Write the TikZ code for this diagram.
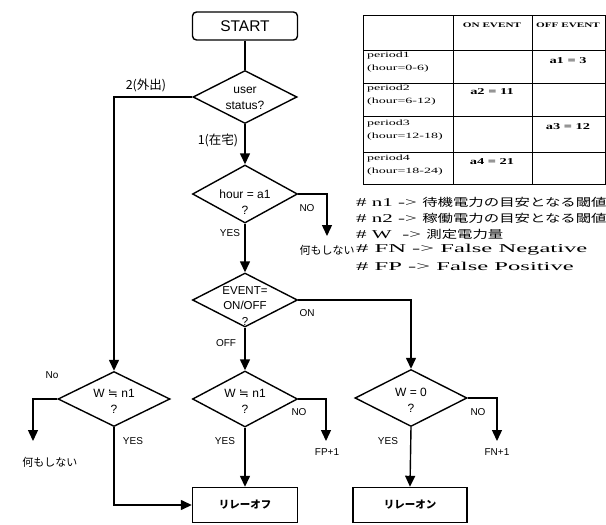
\documentclass[tikz,border=0pt]{standalone}
\usepackage{fontspec}
\setsansfont{Liberation Sans}
\newfontfamily\cjk{Noto Sans CJK JP}
\newfontfamily\sym{DejaVu Sans}
\newfontfamily\tserif{Liberation Serif}
\usetikzlibrary{shapes.geometric,arrows.meta}
\begin{document}
\begin{tikzpicture}[x=1pt,y=-1pt,
  ln/.style={line width=1.4pt},
  arr/.style={ln,-{Triangle[width=10pt,length=11pt]}},
  dshape/.style={diamond,draw,line width=1.4pt,inner sep=0pt},
  dtxt/.style={align=center,font=\sffamily\fontsize{12}{16}\selectfont,inner sep=0pt},
  lbl/.style={font=\sffamily\fontsize{10}{12}\selectfont,inner sep=0pt},
  jlbl/.style={font=\cjk\fontsize{11}{12}\selectfont,inner sep=0pt},
  relay/.style={draw,line width=1.4pt,minimum height=35pt,inner sep=0pt,font=\cjk\bfseries\fontsize{10.5}{12}\selectfont},
  tline/.style={line width=0.8pt},
  tcell/.style={anchor=north west,align=left,inner sep=0pt,font=\tserif\fontsize{8}{13}\selectfont},
  tval/.style={inner sep=0pt,font=\tserif\bfseries\fontsize{9}{10}\selectfont},
  thead/.style={inner sep=0pt,font=\tserif\bfseries\fontsize{7}{8}\selectfont},
  note/.style={anchor=west,inner sep=0pt,font=\tserif\fontsize{12}{13}\selectfont}
]
\useasboundingbox (0,0) rectangle (606,525);
% ---------- flowchart nodes ----------
\node[draw,rounded corners=4pt,line width=1.4pt,minimum width=105pt,minimum height=28pt,inner sep=0pt,font=\sffamily\fontsize{15.5}{16}\selectfont] (start) at (245,26) {START};
\node[dshape,minimum width=104pt,minimum height=53pt] (us) at (245,97) {};
\node[dtxt] (ust) at (245,98) {user\\status?};
\node[dshape,minimum width=105pt,minimum height=58pt] (hr) at (245,194) {};
\node[dtxt] (hrt) at (245,202) {hour = a1\\?};
\node[dshape,minimum width=105pt,minimum height=54pt] (ev) at (245,300) {};
\node[dtxt,font=\sffamily\fontsize{11.5}{15.5}\selectfont] (evt) at (245,306) {EVENT=\\ON/OFF\\?};
\node[dshape,minimum width=105pt,minimum height=56pt] (wm) at (245,399) {};
\node[dtxt] (wmt) at (245,401) {W {\sym ≒} n1\\?};
\node[dshape,minimum width=112pt,minimum height=55pt] (wl) at (114,399) {};
\node[dtxt] (wlt) at (114,401) {W {\sym ≒} n1\\?};
\node[dshape,minimum width=112pt,minimum height=57pt] (w0) at (411,398) {};
\node[dtxt] (w0t) at (411,400) {W = 0\\?};
\node[relay,minimum width=105pt] (off) at (245,505) {リレーオフ};
\node[relay,minimum width=114pt] (on) at (410,505) {リレーオン};
\coordinate (nohr) at (327,236);
\coordinate (fpc) at (326,441);
\coordinate (fnc) at (497,441);
\coordinate (nlc) at (33,441);
% ---------- connectors ----------
\draw[ln] (start) -- (us.north);
\draw[arr] (us.south) -- (hr.north);
\draw[arr] (us.west) -| (wl.north);
\draw[arr] (hr.east) -| (nohr);
\draw[arr] (hr.south) -- (ev.north);
\draw[arr] (ev.east) -| (w0.north);
\draw[arr] (ev.south) -- (wm.north);
\draw[arr] (wm.east) -| (fpc);
\draw[arr] (w0.east) -| (fnc);
\draw[arr] (wl.west) -| (nlc);
\draw[arr] (wl.south) |- (off.west);
\draw[arr] (wm.south) -- (off.north);
\draw[arr] (w0.south) -- (on.north);
% ---------- labels ----------
\node[jlbl,font=\cjk\fontsize{12.5}{13}\selectfont] (l2) at (146,85) {2(外出)};
\node[jlbl,font=\cjk\fontsize{12.5}{13}\selectfont] (l1) at (218,140) {1(在宅)};
\node[lbl] (lno1) at (307,208) {NO};
\node[jlbl] (lnth1) at (327,250) {何もしない};
\node[lbl] (lyes1) at (230,233) {YES};
\node[lbl] (lon) at (307,313) {ON};
\node[lbl] (loff) at (226,343) {OFF};
\node[lbl] (lno2) at (52,375) {No};
\node[jlbl] (lnth2) at (50,462) {何もしない};
\node[lbl] (lyes2) at (133,441) {YES};
\node[lbl] (lyes3) at (225,441) {YES};
\node[lbl] (lno3) at (299,412) {NO};
\node[lbl] (lfp) at (327,452) {FP+1};
\node[lbl] (lyes4) at (388,441) {YES};
\node[lbl] (lno4) at (478,412) {NO};
\node[lbl] (lfn) at (497,452) {FN+1};
% ---------- table ----------
\draw[tline] (363,15) rectangle (605,184);
\foreach \yy in {50,83,116,152} \draw[tline] (363,\yy) -- (605,\yy);
\foreach \xx in {453,532} \draw[tline] (\xx,15) -- (\xx,184);
\node[thead] (th1) at (492,25) {\scalebox{1.6}[1]{ON EVENT}};
\node[thead] (th2) at (568,25) {\scalebox{1.6}[1]{OFF EVENT}};
\node[tcell] (p1) at (367,52) {\scalebox{1.75}[1]{period1}\\\scalebox{1.75}[1]{(hour=0-6)}};
\node[tcell] (p2) at (367,85) {\scalebox{1.75}[1]{period2}\\\scalebox{1.75}[1]{(hour=6-12)}};
\node[tcell] (p3) at (367,120) {\scalebox{1.75}[1]{period3}\\\scalebox{1.75}[1]{(hour=12-18)}};
\node[tcell] (p4) at (367,155) {\scalebox{1.75}[1]{period4}\\\scalebox{1.75}[1]{(hour=18-24)}};
\node[tval] (v1) at (568,61) {\scalebox{1.6}[1]{a1 = 3}};
\node[tval] (v2) at (492,92) {\scalebox{1.6}[1]{a2 = 11}};
\node[tval] (v3) at (568,127) {\scalebox{1.6}[1]{a3 = 12}};
\node[tval] (v4) at (492,162) {\scalebox{1.6}[1]{a4 = 21}};
% ---------- notes ----------
\node[note] (n1) at (356,202) {\scalebox{1.75}[1]{\# n1 -> }{\cjk\fontsize{11}{12}\selectfont\scalebox{1.4}[1]{待機電力の目安となる閾値}}};
\node[note] (n2) at (356,218) {\scalebox{1.75}[1]{\# n2 -> }{\cjk\fontsize{11}{12}\selectfont\scalebox{1.4}[1]{稼働電力の目安となる閾値}}};
\node[note] (n3) at (356,234) {\scalebox{1.75}[1]{\# W\ \ -> }{\cjk\fontsize{11}{12}\selectfont\scalebox{1.4}[1]{測定電力量}}};
\node[note] (n4) at (356,250) {\scalebox{2.05}[1]{\# FN -> False Negative}};
\node[note] (n5) at (356,266) {\scalebox{2.05}[1]{\# FP -> False Positive}};
\end{tikzpicture}
\end{document}
